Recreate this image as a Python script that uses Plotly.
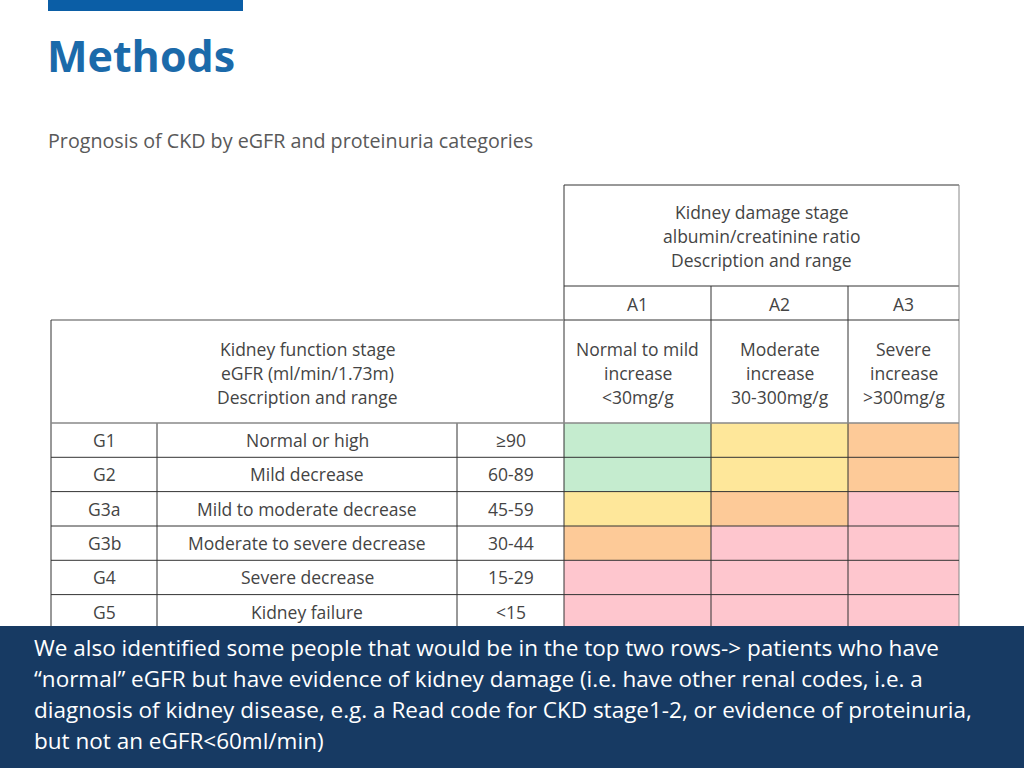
import plotly.graph_objects as go

# ---------------- data ----------------
title = "Methods"
subtitle = "Prognosis of CKD by eGFR and proteinuria categories"

stages = ["G1", "G2", "G3a", "G3b", "G4", "G5"]
stage_desc = ["Normal or high", "Mild decrease", "Mild to moderate decrease",
              "Moderate to severe decrease", "Severe decrease", "Kidney failure"]
egfr_ranges = ["≥90", "60-89", "45-59", "30-44", "15-29", "&lt;15"]

alb_cats = ["A1", "A2", "A3"]
alb_desc = [["Normal to mild", "increase", "&lt;30mg/g"],
            ["Moderate", "increase", "30-300mg/g"],
            ["Severe", "increase", "&gt;300mg/g"]]

right_header = ["Kidney damage stage", "albumin/creatinine ratio", "Description and range"]
left_header = ["Kidney function stage", "eGFR (ml/min/1.73m)", "Description and range"]

# risk level: 0 low (green), 1 moderate (yellow), 2 high (orange), 3 very high (pink)
risk = [[0, 1, 2],
        [0, 1, 2],
        [1, 2, 3],
        [2, 3, 3],
        [3, 3, 3],
        [3, 3, 3]]

note_lines = [
    "We also identified some people that would be in the top two rows-> patients who have",
    "“normal” eGFR but have evidence of kidney damage (i.e. have other renal codes, i.e. a",
    "diagnosis of kidney disease, e.g. a Read code for CKD stage1-2, or evidence of proteinuria,",
    "but not an eGFR&lt;60ml/min)",
]

# ---------------- layout geometry (pixels) ----------------
W, H = 1024, 768
left_cols = [51, 157, 457, 564]          # left table column edges
right_cols = [564, 711, 848, 959]        # risk grid column edges
row_edges = [423, 457.3, 491.6, 526, 560.3, 594.6, 629]
top_box = (185, 286)
cat_row = (286, 320)
desc_row = (320, 423)
box_top = 626

FONT = "Open Sans, Carlito, Calibri, sans-serif"
txt_col = "#444444"
line_col = "#333333"

colors = ["#C5ECCF", "#FEE79A", "#FDCA98", "#FEC6CE"]
cs = []
for i, c in enumerate(colors):
    cs += [[i / 4, c], [(i + 1) / 4, c]]

fig = go.Figure()
fig.add_trace(go.Heatmap(
    z=risk, x=right_cols, y=row_edges, zmin=-0.5, zmax=3.5,
    colorscale=cs, showscale=False, hoverinfo="skip", xgap=0, ygap=0))

shapes = []
def hline(y, x0, x1, color=line_col, w=1):
    shapes.append(dict(type="line", x0=x0, x1=x1, y0=y, y1=y, xref="x", yref="y",
                       line=dict(color=color, width=w), layer="above"))
def vline(x, y0, y1, color=line_col, w=1):
    shapes.append(dict(type="line", x0=x, x1=x, y0=y0, y1=y1, xref="x", yref="y",
                       line=dict(color=color, width=w), layer="above"))

# top bar
shapes.append(dict(type="rect", x0=48, x1=243, y0=0, y1=11, xref="x", yref="y",
                   fillcolor="#0B5EA6", line=dict(width=0), layer="above"))

# right header box
hline(top_box[0], right_cols[0], right_cols[-1])
hline(cat_row[0], right_cols[0], right_cols[-1])
for x in right_cols[1:-1]:
    vline(x, cat_row[0], row_edges[-1])
vline(right_cols[-1], top_box[0], row_edges[-1], color="#888888")
vline(right_cols[0], top_box[0], row_edges[-1])
# left header box
hline(desc_row[0], left_cols[0], left_cols[-1], color="#888888", w=1.5)
hline(desc_row[0], right_cols[0], right_cols[-1])
vline(left_cols[0], desc_row[0], row_edges[-1])
for x in left_cols[1:-1]:
    vline(x, desc_row[1], row_edges[-1])
# row lines
hline(row_edges[0], left_cols[0], right_cols[-1], color="#888888", w=1.5)
for y in row_edges[1:-1]:
    hline(y, left_cols[0], right_cols[-1])

# bottom note box
shapes.append(dict(type="rect", x0=0, x1=W, y0=box_top, y1=H, xref="x", yref="y",
                   fillcolor="#173A63", line=dict(width=0), layer="above"))

ann = []
def text(x, y, s, size=17.5, color=txt_col, xanchor="center", bold=False):
    if bold:
        s = "<b>" + s + "</b>"
    ann.append(dict(x=x, y=y, xref="x", yref="y", text=s, showarrow=False,
                    xanchor=xanchor, yanchor="middle",
                    font=dict(size=size, color=color, family=FONT)))

text(45, 55, title, size=43, color="#1B6AAA", xanchor="left", bold=True)
text(46, 140, subtitle, size=19.7, color="#595959", xanchor="left")

# headers
mid_r = (right_cols[0] + right_cols[-1]) / 2
mid_l = (left_cols[0] + left_cols[-1]) / 2
for i, s in enumerate(right_header):
    text(mid_r, 212 + 24 * i, s)
for i, s in enumerate(left_header):
    text(mid_l, 349 + 24 * i, s)
for j, c in enumerate(alb_cats):
    xc = (right_cols[j] + right_cols[j + 1]) / 2
    text(xc, (cat_row[0] + cat_row[1]) / 2 + 1, c)
    for i, s in enumerate(alb_desc[j]):
        text(xc, 349 + 24 * i, s)

# rows
for r in range(len(stages)):
    yc = (row_edges[r] + row_edges[r + 1]) / 2
    text((left_cols[0] + left_cols[1]) / 2, yc, stages[r])
    text((left_cols[1] + left_cols[2]) / 2, yc, stage_desc[r])
    text((left_cols[2] + left_cols[3]) / 2, yc, egfr_ranges[r])

# note
for i, s in enumerate(note_lines):
    text(32, 647 + 31 * i, s, size=22.5, color="white", xanchor="left")

fig.update_layout(
    width=W, height=H, margin=dict(l=0, r=0, t=0, b=0),
    paper_bgcolor="white", plot_bgcolor="white",
    xaxis=dict(range=[0, W], visible=False, fixedrange=True),
    yaxis=dict(range=[H, 0], visible=False, fixedrange=True),
    shapes=shapes, annotations=ann, showlegend=False,
)
fig.write_html("out.html", config={"displayModeBar": False},
               post_script="document.body.style.margin='0';document.body.style.overflow='hidden';")
